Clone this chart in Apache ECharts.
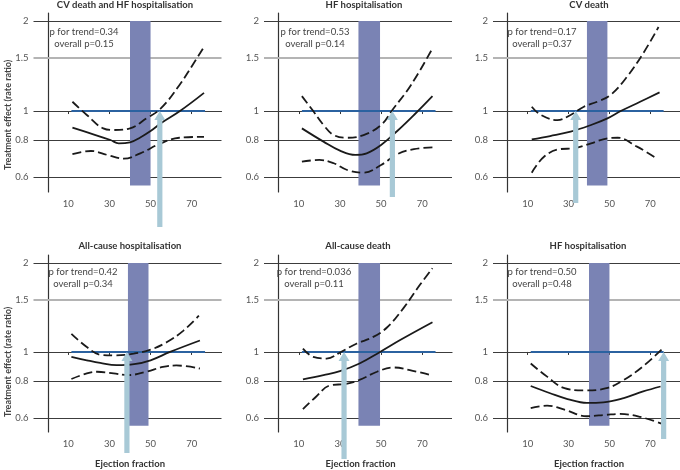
<!DOCTYPE html>
<html><head><meta charset="utf-8">
<script src="https://cdn.jsdelivr.net/npm/echarts@6/dist/echarts.min.js"></script>
<style>html,body{margin:0;padding:0;background:#fff}#c{width:680px;height:470px}</style>
</head><body><div id="c"></div>
<script>
// ---------- data ----------
const panelTitles = ['CV death and HF hospitalisation','HF hospitalisation','CV death',
  'All-cause hospitalisation','All-cause death','HF hospitalisation'];
const pTrend   = ['0.34','0.53','0.17','0.42','0.036','0.50'];
const pOverall = ['0.15','0.14','0.37','0.34','0.11','0.48'];
const yTicks = [0.6, 0.8, 1, 1.5, 2];
const xTicks = [10, 30, 50, 70];
const bandFrom = [40, 39, 39, 39, 39, 40];
const bandTo   = [50, 49.5, 49, 49, 49.5, 50];
const bandLow = 0.563, bandHigh = 2;
const refFrom = 11.5, refTo = 76.5, refValue = 1;
const arrowX = [54.5, 55.5, 33.5, 38.5, 32, 76.5];

const est1 = [[12,0.88],[20,0.845],[30.5,0.80],[34.5,0.78],[40,0.786],[45,0.816],[50,0.857],[55,0.91],[64.3,1.0],[76,1.15]];
const up1  = [[12,1.074],[19,0.97],[27,0.875],[32,0.864],[40,0.875],[48,0.945],[55,1.02],[64,1.22],[70,1.41],[76,1.64]];
const lo1  = [[12,0.717],[17.5,0.731],[21,0.735],[29,0.713],[37,0.693],[45,0.722],[55,0.78],[64,0.814],[76,0.82]];

const est2 = [[11.5,0.875],[22,0.79],[30,0.737],[37.5,0.713],[43,0.722],[50,0.77],[58,0.859],[66,0.97],[75,1.122]];
const up2  = [[11.5,1.122],[17,1.0],[22,0.898],[27,0.831],[33.5,0.814],[41.5,0.831],[50,0.898],[55.5,1.008],[64.5,1.22],[75,1.62]];
const lo2  = [[11.5,0.677],[20,0.686],[27,0.669],[33.5,0.635],[41.5,0.622],[50,0.66],[58,0.718],[66,0.746],[75,0.756]];

const est3 = [[12,0.804],[21,0.825],[31,0.853],[41,0.898],[49,0.945],[55.5,1.0],[65,1.074],[74.5,1.155]];
const up3  = [[12,1.034],[16.5,0.97],[24.5,0.933],[31,0.97],[37.5,1.034],[44,1.074],[50.5,1.131],[58.5,1.30],[66.5,1.56],[74,1.91]];
const lo3  = [[12,0.622],[18,0.703],[26,0.746],[32.5,0.75],[41,0.78],[49,0.81],[54,0.814],[63.5,0.76],[73,0.695]];

const est4 = [[11.5,0.962],[19,0.937],[25.5,0.918],[33.5,0.902],[42,0.909],[50,0.937],[59.5,1.0],[74,1.093]];
const up4  = [[11.5,1.151],[19,1.039],[25.5,0.979],[32,0.974],[41.8,0.987],[50,1.018],[58,1.08],[66,1.181],[73.5,1.326]];
const lo4  = [[11.5,0.81],[19,0.846],[24,0.857],[32,0.846],[39,0.835],[48,0.857],[56,0.89],[62.5,0.9],[74,0.879]];

const est5 = [[12,0.808],[22,0.835],[30,0.861],[39.5,0.914],[49.5,1.0],[59.5,1.099],[75,1.26]];
const up5  = [[12,1.026],[17,0.962],[23.5,0.95],[30.5,1.0],[38,1.066],[46,1.122],[53,1.212],[61,1.41],[69,1.69],[75,1.92]];
const lo5  = [[12,0.641],[18.5,0.707],[25,0.77],[33,0.78],[39.5,0.804],[48,0.857],[56,0.886],[64,0.868],[74,0.835]];

const est6 = [[11.5,0.767],[21,0.725],[29.5,0.693],[39,0.672],[47,0.675],[57,0.698],[66.5,0.735],[75,0.764]];
const up6  = [[11.5,0.914],[19.5,0.825],[28,0.754],[37.5,0.741],[48.5,0.754],[57,0.804],[66.5,0.895],[76,1.026]];
const lo6  = [[11.5,0.646],[19.5,0.658],[28,0.638],[39,0.606],[48.5,0.613],[55,0.617],[65,0.603],[75.5,0.572]];

const estimates = [est1, est2, est3, est4, est5, est6];
const uppers = [up1, up2, up3, up4, up5, up6];
const lowers = [lo1, lo2, lo3, lo4, lo5, lo6];

// ---------- layout ----------
const X_MIN = -4.5, X_MAX = 84.5;
const Y_MIN = 0.536, Y_MAX = 2.128;
const gridLeft = [38.5, 269, 498, 38.5, 269, 498];
const gridTop  = [13, 13, 13, 255, 255, 255];
const gridW = 183, gridH = 179;
const titleX = [125, 364, 589, 130, 358, 588];
const titleY = [0, 0, 0, 241, 241, 241];
const pX = [84, 315, 542, 83, 314, 542];
const pY = [26, 26, 26, 266, 266, 266];
const arrowTailPx = [35, 5, 11, 21, 27, 7];
const FONT = 'Lato';
const C_AXIS = '#333', C_TEXT = '#555', C_BAND = '#7a83b4', C_REF = '#2b62a0', C_ARROW = '#a8c9d6';

const L = Math.log;
const tr = arr => arr.map(p => [p[0], L(p[1])]);

const grids = [], xAxes = [], yAxes = [], series = [], titles = [], graphics = [];
for (let i = 0; i < 6; i++) {
  const bottomRow = i >= 3;
  grids.push({left: gridLeft[i], top: gridTop[i], width: gridW, height: gridH, containLabel: false});
  xAxes.push({
    type: 'value', gridIndex: i, min: X_MIN, max: X_MAX,
    name: bottomRow ? 'Ejection fraction' : '', nameLocation: 'middle', nameGap: 27,
    nameTextStyle: {fontFamily: FONT, fontWeight: 'bold', fontSize: 9.5, color: '#333'},
    axisLine: {lineStyle: {color: C_AXIS, width: 1.2}},
    axisTick: {show: true, customValues: xTicks, length: 3, lineStyle: {color: C_AXIS}},
    axisLabel: {customValues: xTicks, margin: 7, fontFamily: FONT, fontSize: 9.5, color: C_TEXT},
    splitLine: {show: false}
  });
  yAxes.push({
    type: 'value', gridIndex: i, min: L(Y_MIN), max: L(Y_MAX),
    axisLine: {show: true, lineStyle: {color: C_AXIS, width: 1.2}},
    axisTick: {show: false},
    axisLabel: {customValues: yTicks.map(L), margin: 10, fontFamily: FONT, fontSize: 9.5, color: C_TEXT,
      formatter: v => { const t = yTicks.find(t => Math.abs(L(t) - v) < 1e-6); return t === undefined ? '' : String(t); }},
    splitLine: {show: false}
  });
  // grid lines
  series.push({
    type: 'custom', xAxisIndex: i, yAxisIndex: i, z: 1, silent: true,
    data: yTicks.map(t => [X_MIN, L(t), t]),
    renderItem: (params, api) => {
      const v = api.value(1), t = api.value(2);
      const a = api.coord([X_MIN, v]), b = api.coord([X_MAX, v]);
      const light = t === 1.5;
      const y = Math.round(a[1]) + (light ? 0 : 0.5);
      return {type: 'line', shape: {x1: a[0] - 5, y1: y, x2: b[0], y2: y},
        style: {stroke: light ? '#b4b4b4' : '#3c3c3c', lineWidth: light ? 2 : 1}};
    }
  });
  // band
  series.push({
    type: 'custom', xAxisIndex: i, yAxisIndex: i, z: 2, silent: true,
    data: [[bandFrom[i], L(bandHigh), bandTo[i], L(bandLow)]],
    renderItem: (params, api) => {
      const a = api.coord([api.value(0), api.value(1)]);
      const b = api.coord([api.value(2), api.value(3)]);
      return {type: 'rect', shape: {x: a[0], y: a[1], width: b[0] - a[0], height: b[1] - a[1]},
        style: {fill: C_BAND}};
    }
  });
  // reference line at 1
  series.push({
    type: 'line', xAxisIndex: i, yAxisIndex: i, z: 3, silent: true, symbol: 'none',
    data: [[refFrom, L(refValue)], [refTo, L(refValue)]],
    lineStyle: {color: C_REF, width: 2}
  });
  // curves
  series.push({type: 'line', xAxisIndex: i, yAxisIndex: i, z: 4, symbol: 'none', smooth: 0.4, silent: true,
    data: tr(estimates[i]), lineStyle: {color: '#1a1a1a', width: 1.8}});
  series.push({type: 'line', xAxisIndex: i, yAxisIndex: i, z: 4, symbol: 'none', smooth: 0.4, silent: true,
    data: tr(uppers[i]), lineStyle: {color: '#1a1a1a', width: 1.8, type: [9, 4]}});
  series.push({type: 'line', xAxisIndex: i, yAxisIndex: i, z: 4, symbol: 'none', smooth: 0.4, silent: true,
    data: tr(lowers[i]), lineStyle: {color: '#1a1a1a', width: 1.8, type: [9, 4]}});
  // arrow
  const tail = arrowTailPx[i];
  series.push({
    type: 'custom', xAxisIndex: i, yAxisIndex: i, z: 6, silent: true, clip: false,
    data: [[arrowX[i], L(refValue)]],
    renderItem: (params, api) => {
      const tip = api.coord([api.value(0), api.value(1)]);
      const base = api.coord([api.value(0), L(Y_MIN)]);
      const x = tip[0], y0 = tip[1], y1 = base[1] + tail;
      const sw = 2.6, hw = 5.5, hh = 9;
      return {type: 'polygon', shape: {points: [
        [x, y0], [x + hw, y0 + hh], [x + sw, y0 + hh], [x + sw, y1],
        [x - sw, y1], [x - sw, y0 + hh], [x - hw, y0 + hh]]},
        style: {fill: C_ARROW}};
    }
  });
  titles.push({text: panelTitles[i], left: titleX[i], top: titleY[i], textAlign: 'center',
    textStyle: {fontFamily: FONT, fontWeight: 'bold', fontSize: 9.5, color: '#333'}, padding: 0});
  graphics.push({type: 'text', x: pX[i], y: pY[i], z: 10,
    style: {text: 'p for trend=' + pTrend[i] + '\noverall p=' + pOverall[i],
      align: 'center', verticalAlign: 'top', lineHeight: 12,
      font: '9.5px ' + FONT, fill: '#444'}});
}
const yNameY = [115, 362];
yNameY.forEach(cy => graphics.push({
  type: 'text', x: 8, y: cy, rotation: Math.PI / 2,
  style: {text: 'Treatment effect (rate ratio)', align: 'center', verticalAlign: 'middle',
    font: 'bold 9px ' + FONT, fill: '#444'}
}));

const chart = echarts.init(document.getElementById('c'), null, {renderer: 'canvas'});
chart.setOption({
  animation: false, backgroundColor: '#fff',
  title: titles, grid: grids, xAxis: xAxes, yAxis: yAxes, series: series, graphic: graphics
});
</script></body></html>
